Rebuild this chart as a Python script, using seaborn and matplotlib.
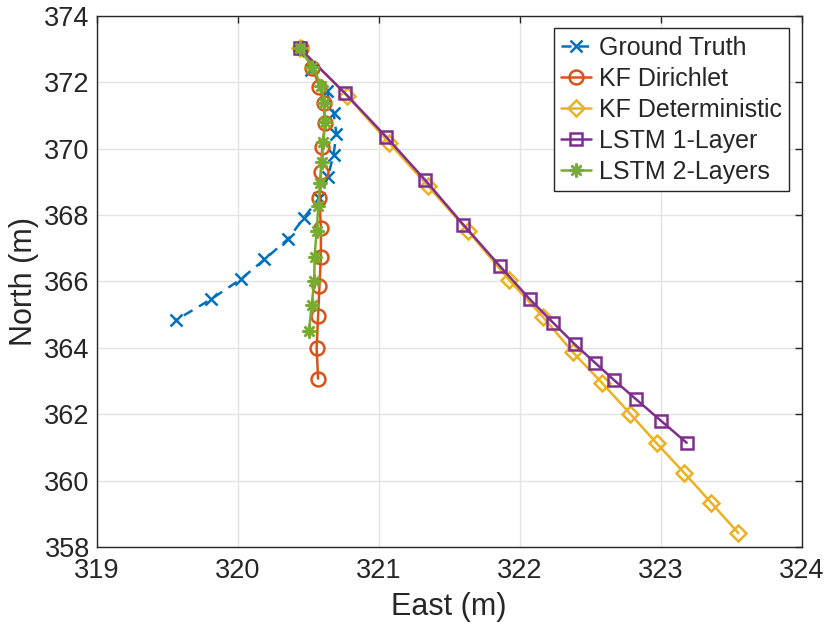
import matplotlib
matplotlib.use("Agg")
import matplotlib.pyplot as plt
import seaborn as sns
import pandas as pd

# ---- data ----
gt_east = [320.44, 320.52, 320.63, 320.68, 320.70, 320.68, 320.64, 320.58, 320.47, 320.36, 320.19, 320.02, 319.81, 319.56]
gt_north = [373.02, 372.37, 371.74, 371.08, 370.45, 369.82, 369.15, 368.52, 367.92, 367.29, 366.66, 366.06, 365.46, 364.83]

kfd_east = [320.45, 320.53, 320.58, 320.61, 320.62, 320.60, 320.59, 320.58, 320.59, 320.59, 320.58, 320.57, 320.56, 320.57]
kfd_north = [373.02, 372.42, 371.87, 371.37, 370.77, 370.06, 369.31, 368.51, 367.61, 366.74, 365.87, 364.95, 364.00, 363.07]

kfdet_east = [320.44, 320.775, 321.075, 321.352, 321.635, 321.924, 322.163, 322.376, 322.582, 322.782, 322.972, 323.165, 323.357, 323.55]
kfdet_north = [373.02, 371.59, 370.17, 368.86, 367.51, 366.05, 364.94, 363.87, 362.95, 362.02, 361.12, 360.24, 359.34, 358.42]

lstm1_east = [320.44, 320.761, 321.052, 321.328, 321.60, 321.862, 322.07, 322.238, 322.392, 322.534, 322.671, 322.825, 323.00, 323.184]
lstm1_north = [373.02, 371.67, 370.36, 369.06, 367.71, 366.45, 365.47, 364.75, 364.10, 363.55, 363.02, 362.45, 361.81, 361.14]

lstm2_east = [320.44, 320.53, 320.594, 320.612, 320.619, 320.607, 320.596, 320.584, 320.572, 320.56, 320.545, 320.543, 320.525, 320.506]
lstm2_north = [373.02, 372.46, 371.90, 371.36, 370.81, 370.20, 369.60, 368.96, 368.28, 367.51, 366.75, 366.02, 365.30, 364.52]

series_names = ["Ground Truth", "KF Dirichlet", "KF Deterministic", "LSTM 1-Layer", "LSTM 2-Layers"]
x_ticks = [319, 320, 321, 322, 323, 324]
y_ticks = [358, 360, 362, 364, 366, 368, 370, 372, 374]

# ---- styling ----
sns.set_style("white")
plt.rcParams["font.family"] = ["Liberation Sans", "DejaVu Sans"]

colors = ["#0072BD", "#D95319", "#EDB120", "#7E2F8E", "#77AC30"]
xs = [gt_east, kfd_east, kfdet_east, lstm1_east, lstm2_east]
ys = [gt_north, kfd_north, kfdet_north, lstm1_north, lstm2_north]
markers = ["x", "o", "D", "s", (8, 2, 0)]
msizes = [9, 10, 8, 9, 10]
linestyles = [(0, (4, 3)), "-", "-", "-", "-"]

fig = plt.figure(figsize=(8.30, 6.34), dpi=100)
ax = fig.add_axes([96.7 / 830, 1 - 547 / 634, (801.7 - 96.7) / 830, (547 - 15.8) / 634])

for name, x, y, c, m, ms, ls in zip(series_names, xs, ys, colors, markers, msizes, linestyles):
    df = pd.DataFrame({"East": x, "North": y})
    sns.lineplot(data=df, x="East", y="North", sort=False, estimator=None, ax=ax, color=c,
                 linewidth=1.8, linestyle=ls, marker=m, markersize=ms,
                 markerfacecolor="none" if m in ("o", "D", "s") else c,
                 markeredgecolor=c, markeredgewidth=1.8, label=name)

ax.set_xlim(319, 324)
ax.set_ylim(358, 374)
ax.set_xticks(x_ticks)
ax.set_yticks(y_ticks)
ax.set_xticklabels([str(t) for t in x_ticks])
ax.set_yticklabels([str(t) for t in y_ticks])
ax.grid(True, color="#e3e3e3", linewidth=1.0)
ax.set_axisbelow(True)
ax.tick_params(direction="in", length=5, width=1, colors="#262626", labelsize=19.5,
               top=True, right=True)
ax.tick_params(axis="x", pad=8)
ax.tick_params(axis="y", pad=5)
for s in ax.spines.values():
    s.set_color("#262626")
    s.set_linewidth(1.0)
ax.set_xlabel("East (m)", fontsize=22, color="#262626", labelpad=6)
ax.set_ylabel("North (m)", fontsize=22, color="#262626", labelpad=4)

leg = ax.legend(loc="upper right", fontsize=18, frameon=True, fancybox=False,
                framealpha=1, edgecolor="#262626", handlelength=1.2,
                handletextpad=0.3, borderpad=0.3, labelspacing=0.28,
                borderaxespad=0.5)
leg.get_frame().set_linewidth(1.0)

fig.savefig("out.png", dpi=100)
